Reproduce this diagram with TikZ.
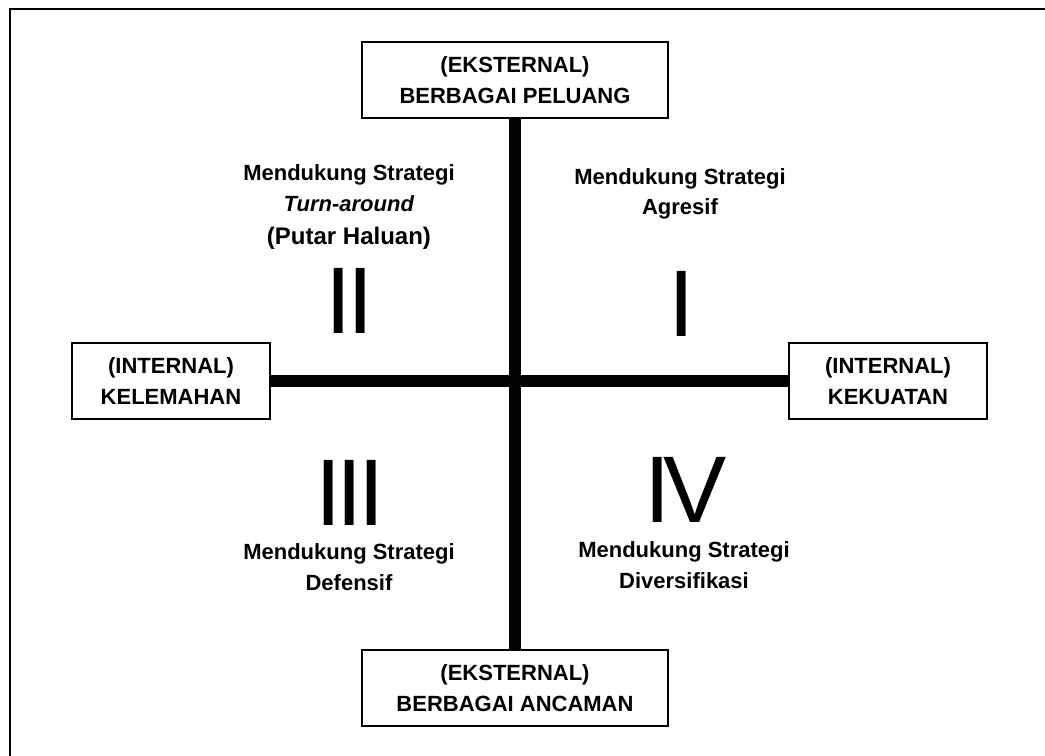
\documentclass[tikz,border=0pt]{standalone}
\usepackage{fontspec}
\usepackage{tikz}
\newfontfamily\arialfont{Liberation Sans}
\newcommand{\kotakfont}{\arialfont\bfseries\fontsize{16.5}{23}\selectfont}
\newcommand{\romawifont}{\arialfont\fontsize{71}{80}\selectfont}

\begin{document}
\begin{tikzpicture}[x=0.75pt, y=-0.75pt]
    \tikzstyle{kotak} = [rectangle, draw, line width=1.5pt, fill=white,
        align=center, inner sep=0pt, minimum height=57pt, font=\kotakfont]
    \tikzstyle{kotaklebar} = [kotak, minimum width=229pt]
    \tikzstyle{kotaksempit} = [kotak, minimum width=148pt]
    \tikzstyle{strategi} = [align=center, inner sep=0pt, font=\kotakfont]
    \tikzstyle{romawi} = [inner sep=0pt, font=\romawifont]
    \tikzstyle{sumbu} = [draw, line width=9pt]

    \useasboundingbox (0,0) rectangle (1045,756);
    \draw [line width=1.5pt] (9.5,756) -- (9.5,9.5) -- (1045,9.5);

    \node [kotaklebar] (peluang) at (515,80) {(EKSTERNAL)\\BERBAGAI PELUANG};
    \node [kotaklebar] (ancaman) at (515,688) {(EKSTERNAL)\\BERBAGAI ANCAMAN};
    \node [kotaksempit] (kelemahan) at (171,381) {(INTERNAL)\\KELEMAHAN};
    \node [kotaksempit] (kekuatan) at (888,381) {(INTERNAL)\\KEKUATAN};

    \path [sumbu] (peluang) -- (ancaman);
    \path [sumbu] (kelemahan) -- (kekuatan);

    \node [strategi] (turnaround) at (349,207) {Mendukung Strategi\\
        \textit{Turn-around}\\[1.5pt]{\fontsize{18}{23}\selectfont (Putar Haluan)}};
    \node [strategi] (agresif) at (680,194) {Mendukung Strategi\\Agresif};
    \node [strategi] (defensif) at (349,567) {Mendukung Strategi\\Defensif};
    \node [strategi] (diversifikasi) at (684,565) {Mendukung Strategi\\Diversifikasi};

    \node [romawi] (kuadran2) at (349.5,301) {I\kern-3.2pt I};
    \node [romawi] (kuadran1) at (681.7,304) {I};
    \node [romawi] (kuadran3) at (350,493) {I\kern-3.4pt I\kern-3.4pt I};
    \node [romawi] (kuadran4) at (685.5,490) {I\kern-5.5pt V};
\end{tikzpicture}
\end{document}
